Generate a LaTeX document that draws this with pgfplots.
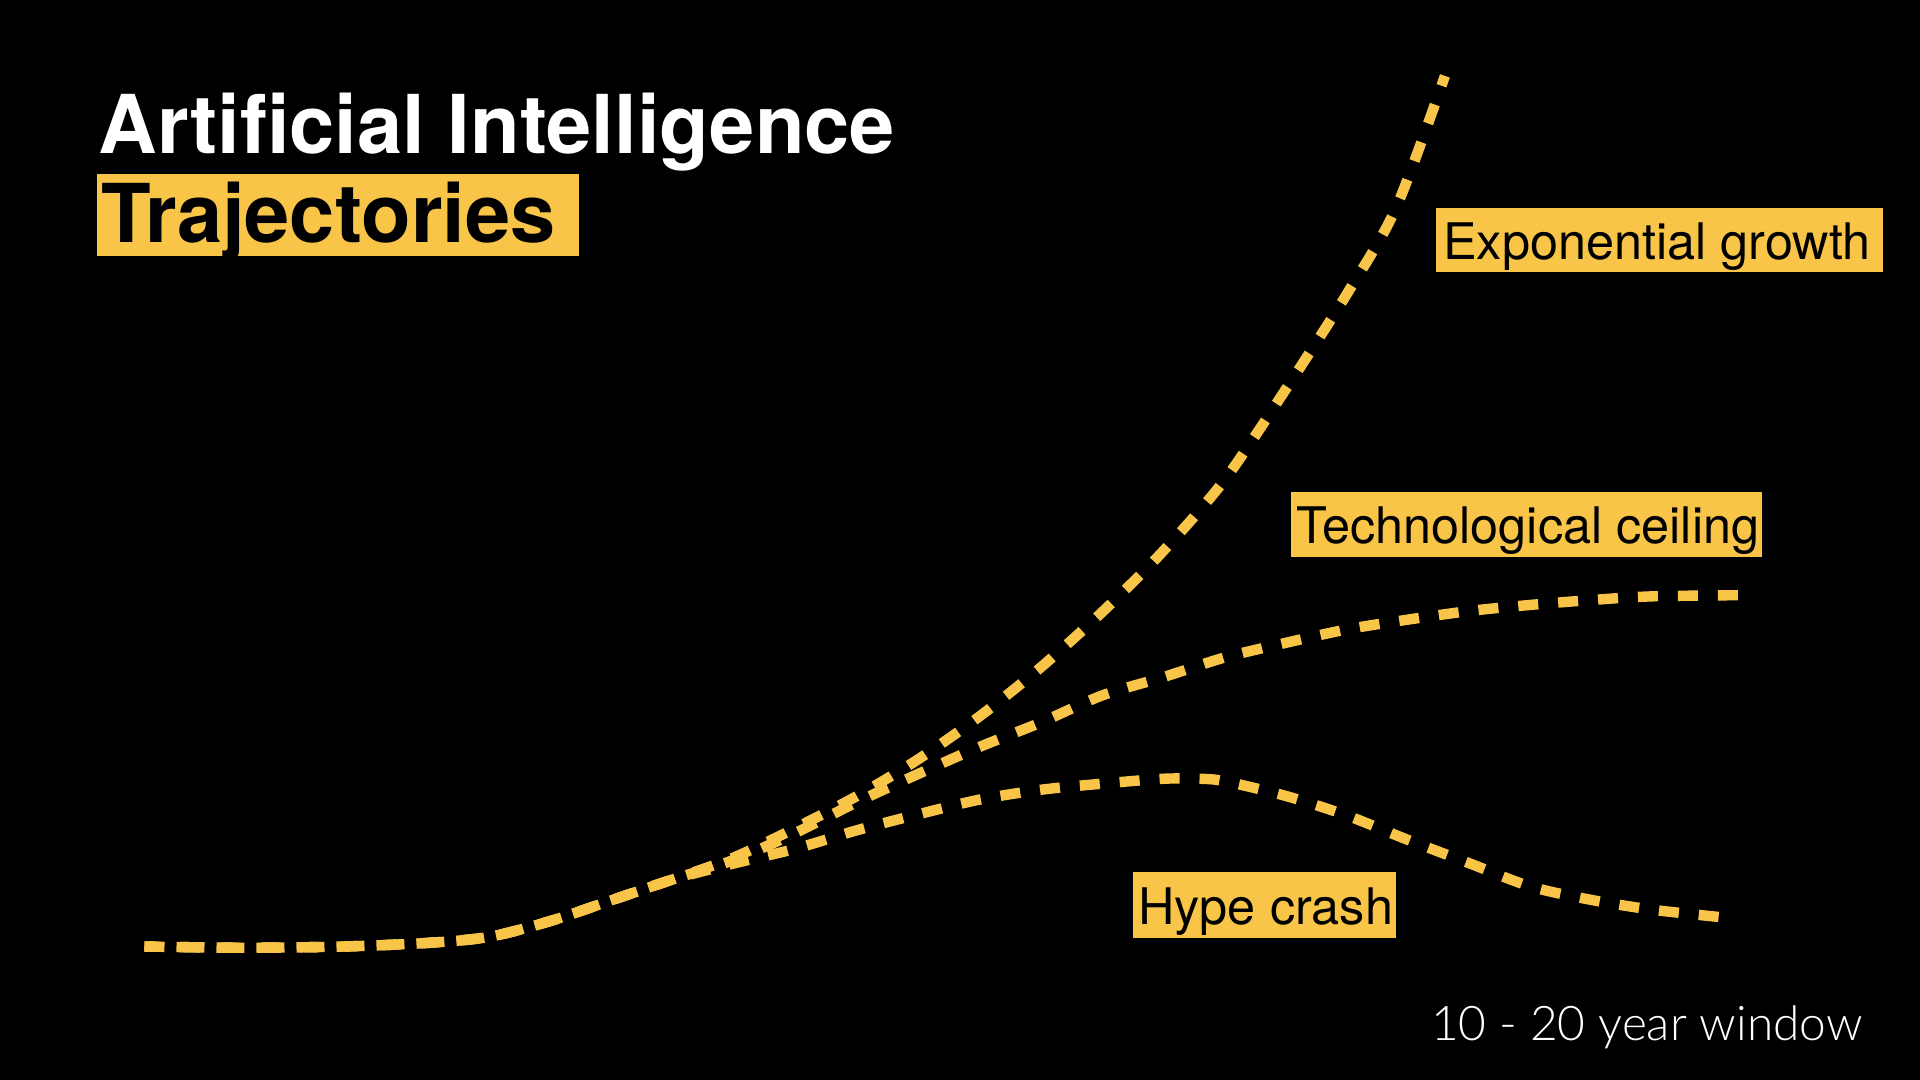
\documentclass[border=0pt]{standalone}
\usepackage{pgfplots}
\pgfplotsset{compat=1.18}
\usepackage{fontspec}
\setmainfont{TeX Gyre Heros}
\newfontfamily\lightfont{Lato}[UprightFont=* Light]
\definecolor{aiyellow}{HTML}{F8C548}
\begin{document}
\begin{tikzpicture}
\begin{axis}[
  width=480pt, height=270pt, scale only axis,
  xmin=0, xmax=1568, ymin=0, ymax=882, y dir=reverse,
  axis lines=none, clip=false,
]
\fill[black] (axis cs:0,0) rectangle (axis cs:1568,882);
% label boxes
\fill[aiyellow] (axis cs:79,142) rectangle (axis cs:473,209);
\fill[aiyellow] (axis cs:1173,170) rectangle (axis cs:1538,222);
\fill[aiyellow] (axis cs:1054,402) rectangle (axis cs:1439,455);
\fill[aiyellow] (axis cs:925,712) rectangle (axis cs:1140,766);
% curves
\addplot[aiyellow, line width=2.6pt, dash pattern=on 5pt off 5pt, smooth] coordinates {
 (118,773) (200,774) (280,773) (350,770) (400,765) (450,752) (500,735) (550,718) (600,700)
 (650,676) (700,650) (750,620) (800,585) (850,545) (900,500) (950,450) (1000,392)
 (1050,318) (1100,240) (1140,170) (1180,62)};
\addplot[aiyellow, line width=2.6pt, dash pattern=on 5pt off 5pt, dash phase=2pt, smooth] coordinates {
 (118,773) (200,774) (280,773) (350,770) (400,765) (450,752) (500,735) (550,718) (600,702)
 (650,680) (700,655) (750,632) (800,610) (850,590) (900,568) (950,553) (1000,537)
 (1050,525) (1100,514) (1150,506) (1200,499) (1250,494) (1300,490) (1350,487) (1430,486)};
\addplot[aiyellow, line width=2.6pt, dash pattern=on 5pt off 5pt, dash phase=1pt, smooth] coordinates {
 (118,773) (200,774) (280,773) (350,770) (400,765) (450,752) (500,735) (550,718) (600,705)
 (650,693) (700,678) (750,665) (800,653) (850,645) (900,640) (950,636) (980,636) (1000,638)
 (1050,650) (1100,666) (1150,686) (1200,705) (1250,724) (1300,735) (1350,743) (1415,750)};
% texts
\node[anchor=base west, inner sep=0, text=white, font=\bfseries\fontsize{20.3}{24}\selectfont] at (axis cs:80,125) {Artificial Intelligence};
\node[anchor=base west, inner sep=0, text=black, font=\bfseries\fontsize{20.3}{24}\selectfont] at (axis cs:82,198) {Trajectories};
\node[anchor=base west, inner sep=0, text=black, font=\fontsize{12.6}{15}\selectfont] at (axis cs:1178,212) {Exponential growth};
\node[anchor=base west, inner sep=0, text=black, font=\fontsize{12.6}{15}\selectfont] at (axis cs:1058,444) {Technological ceiling};
\node[anchor=base west, inner sep=0, text=black, font=\fontsize{12.6}{15}\selectfont] at (axis cs:929,755) {Hype crash};
\node[anchor=base west, inner sep=0, text=white, font=\lightfont\fontsize{11.95}{14}\selectfont] at (axis cs:1168,850) {10 - 20 year window};
\end{axis}
\end{tikzpicture}
\end{document}
